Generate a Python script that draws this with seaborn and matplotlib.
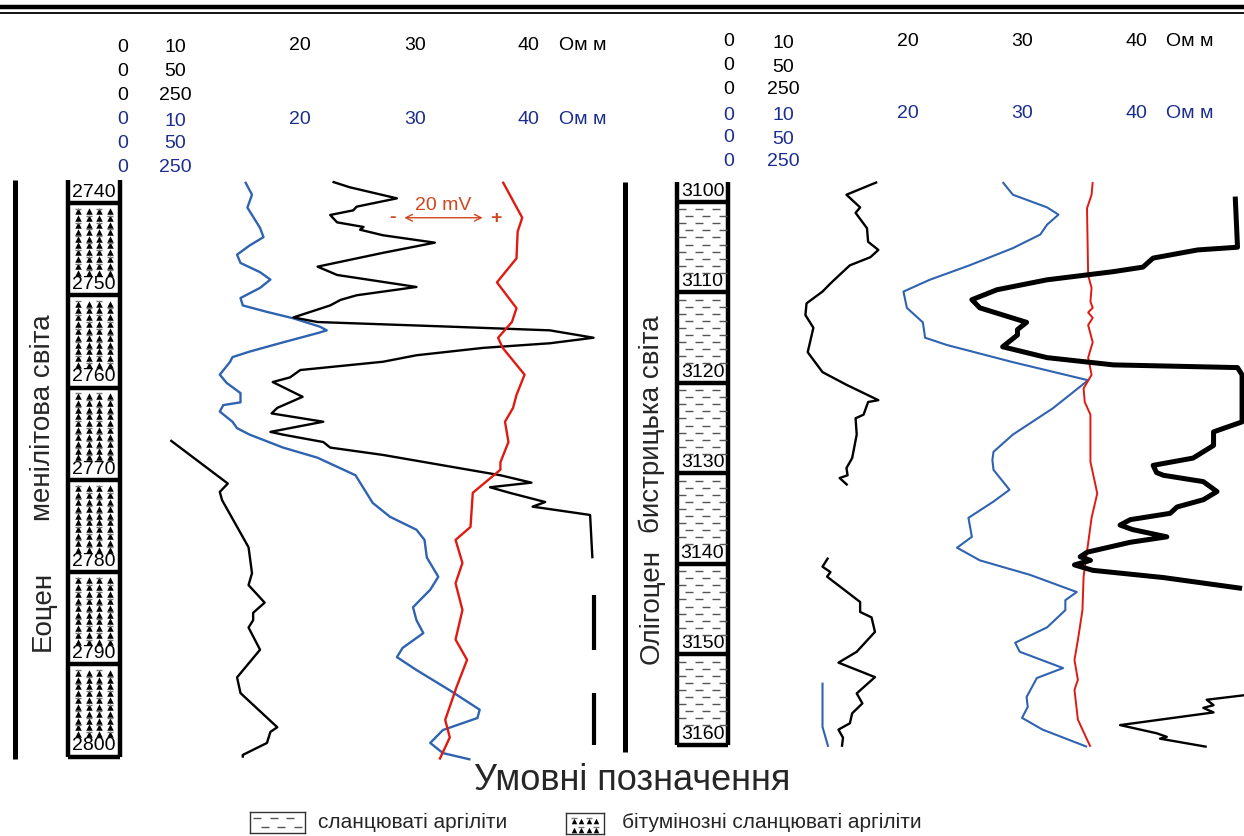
import numpy as np
import matplotlib
matplotlib.use("Agg")
import matplotlib.pyplot as plt
import seaborn as sns
from matplotlib.lines import Line2D

sns.set_theme(style="white")
plt.rcParams['font.family'] = ['Liberation Sans', 'DejaVu Sans']

# ---------------- data (depth in m, values in Ом м scale units) ----------------
# left well: Еоцен, менілітова світа
l_blue_depth = [2737.7, 2739.1, 2740.5, 2742.7, 2743.7, 2744.6, 2745.6, 2746.5, 2747.5, 2748.3,
                2749.2, 2750.3, 2751.1, 2751.8, 2752.5, 2753.4, 2753.8, 2754.1, 2755.1, 2756.1,
                2756.7, 2757.2, 2758.6, 2759.5, 2760.6, 2761.6, 2761.9, 2762.6, 2763.7, 2764.4,
                2765.1, 2766.5, 2767.6, 2769.5, 2772.5, 2774.0, 2775.4, 2776.5, 2778.4, 2780.5,
                2781.9, 2783.8, 2785.2, 2786.6, 2788.2, 2789.2, 2790.6, 2792.8, 2794.9, 2795.8,
                2797.1, 2798.5, 2799.6, 2800.3]
l_blue_ohm = [15.4, 16.0, 15.6, 16.7, 17.0, 15.8, 14.7, 15.0, 16.7, 17.6,
              16.7, 15.0, 15.2, 17.3, 19.6, 21.9, 22.5, 21.7, 18.7, 15.8,
              14.3, 14.1, 13.2, 13.8, 15.0, 15.0, 13.5, 13.2, 14.3, 14.7,
              15.8, 18.7, 21.7, 25.0, 26.5, 28.0, 30.3, 31.0, 31.2, 32.2,
              31.5, 30.0, 30.3, 30.9, 29.1, 28.6, 30.3, 33.2, 35.8, 35.6,
              32.6, 31.5, 32.6, 35.0]

l_black_depth = [2737.7, 2738.3, 2739.5, 2740.4, 2740.8, 2741.3, 2742.1, 2742.6, 2742.9, 2743.5,
                 2744.3, 2745.4, 2746.9, 2747.8, 2749.1, 2750.0, 2750.5, 2751.1, 2752.4, 2752.9,
                 2753.4, 2753.8, 2754.6, 2755.2, 2755.7, 2756.5, 2757.2, 2758.1, 2758.9, 2759.4,
                 2761.0, 2762.2, 2762.8, 2763.7, 2764.8, 2765.1, 2765.9, 2766.5, 2767.3, 2769.5,
                 2770.3, 2770.8, 2771.4, 2772.4, 2772.9, 2773.8, 2778.5]
l_black_ohm = [23.0, 24.5, 28.6, 25.1, 24.8, 22.8, 23.4, 25.7, 25.4, 27.4,
               31.9, 27.4, 21.7, 23.4, 30.3, 25.1, 23.7, 22.8, 19.6, 21.7,
               33.2, 41.9, 45.7, 41.9, 36.1, 30.3, 27.4, 20.2, 19.3, 17.8,
               20.4, 18.2, 17.7, 22.2, 17.6, 18.7, 22.2, 22.8, 27.4, 37.6,
               40.3, 36.7, 38.4, 41.5, 40.4, 45.4, 45.6]
l_black_gaps = [(2782.5, 2788.4), (2793.1, 2798.7)]
l_black_gap_ohm = 45.7

l_thin_depth = [2765.7, 2770.4, 2771.3, 2772.2, 2777.3, 2780.1, 2781.4, 2783.3, 2784.4, 2785.2,
                2786.0, 2788.4, 2791.4, 2793.1, 2796.8, 2797.3, 2798.5, 2799.8, 2800.1]
l_thin_ohm = [8.9, 13.9, 13.2, 13.4, 15.7, 16.0, 15.7, 17.1, 16.1, 16.1,
              15.7, 16.7, 14.7, 15.0, 18.2, 17.6, 17.3, 15.2, 15.2]

l_sp_depth = [2737.7, 2741.6, 2743.1, 2746.0, 2748.6, 2751.4, 2752.9, 2754.6, 2755.7, 2758.6,
              2760.8, 2762.2, 2763.7, 2765.9, 2768.1, 2768.9, 2771.4, 2775.1, 2776.5, 2779.0,
              2781.2, 2784.1, 2787.3, 2789.5, 2792.4, 2796.0, 2797.9, 2800.3]
l_sp_val = [37.8, 39.5, 39.1, 39.0, 37.3, 39.0, 38.6, 37.4, 37.8, 39.7,
            39.0, 38.7, 38.0, 38.3, 37.6, 37.6, 35.2, 35.0, 33.7, 34.3,
            33.7, 34.3, 33.7, 34.7, 33.8, 32.8, 33.2, 32.3]

# right well: Олігоцен, бистрицька світа
r_thin_a_depth = [3097.8, 3099.2, 3100.6, 3101.2, 3102.9, 3104.4, 3105.3, 3106.1, 3107.0, 3107.7,
                  3109.0, 3109.9, 3111.2, 3112.5, 3113.9, 3116.6, 3118.8, 3120.2, 3121.9, 3122.1,
                  3123.5, 3123.9, 3125.7, 3128.3, 3129.4, 3130.2, 3130.5, 3131.3]
r_thin_a_ohm = [17.3, 14.6, 15.8, 15.4, 16.4, 16.5, 17.4, 16.7, 14.9, 14.3,
                13.2, 12.5, 11.1, 11.0, 11.7, 11.2, 12.5, 14.6, 17.4, 16.5,
                16.1, 15.4, 15.5, 15.1, 14.6, 14.7, 14.0, 14.7]
r_thin_b_depth = [3139.3, 3140.3, 3140.9, 3141.4, 3144.2, 3145.3, 3145.9, 3147.5, 3149.7, 3150.9,
                  3152.5, 3154.3, 3155.4, 3156.5, 3157.6, 3158.3, 3159.2, 3160.2]
r_thin_b_ohm = [13.0, 12.5, 13.2, 12.9, 15.8, 15.8, 16.8, 17.1, 15.5, 13.9,
                17.1, 15.5, 16.0, 15.1, 14.9, 13.9, 14.3, 14.2]
r_blue_short_depth = [3153.1, 3158.0, 3160.2]
r_blue_short_ohm = [12.5, 12.5, 13.0]

r_blue_depth = [3097.8, 3099.2, 3100.6, 3101.4, 3102.5, 3103.6, 3105.1, 3107.0, 3108.6, 3109.9,
                3111.7, 3113.3, 3115.0, 3115.8, 3117.7, 3119.7, 3122.8, 3125.7, 3127.6, 3128.5,
                3129.6, 3131.8, 3133.1, 3134.9, 3137.0, 3138.2, 3139.6, 3141.2, 3143.1, 3144.0,
                3145.1, 3147.0, 3148.7, 3149.7, 3151.5, 3152.6, 3154.7, 3155.8, 3157.0, 3158.3,
                3160.2]
r_blue_ohm = [28.3, 29.2, 32.2, 33.2, 32.2, 31.6, 29.2, 25.4, 21.9, 19.6,
              19.9, 21.3, 21.5, 23.4, 29.2, 35.8, 32.7, 29.2, 27.5, 27.4,
              27.5, 28.9, 27.5, 25.3, 25.6, 24.3, 26.3, 30.7, 34.8, 33.8,
              33.8, 32.2, 29.4, 29.8, 33.6, 31.3, 30.4, 30.5, 30.0, 31.8,
              35.7]

r_sp_depth = [3097.8, 3099.2, 3100.7, 3108.1, 3109.5, 3111.0, 3111.7, 3112.2, 3112.8, 3113.6,
              3115.5, 3117.2, 3119.1, 3120.6, 3122.1, 3123.5, 3128.7, 3132.2, 3134.9, 3137.7,
              3141.4, 3145.1, 3148.4, 3150.6, 3152.8, 3153.9, 3157.2, 3160.2]
r_sp_val = [36.2, 36.1, 35.7, 35.8, 36.1, 36.0, 36.2, 35.8, 36.2, 35.8,
            36.2, 35.8, 36.1, 35.4, 35.5, 36.0, 36.0, 36.6, 36.1, 35.8,
            35.4, 35.3, 34.9, 34.6, 34.9, 34.6, 34.9, 36.0]

r_thick_depth = [3099.4, 3105.0, 3105.3, 3106.2, 3107.2, 3107.7, 3108.6, 3109.7, 3110.8, 3111.7,
                 3113.3, 3114.1, 3114.7, 3116.0, 3117.2, 3118.0, 3118.3, 3119.1, 3124.3, 3125.4,
                 3126.9, 3128.3, 3129.1, 3129.9, 3130.2, 3130.9, 3132.0, 3132.9, 3133.7, 3134.4,
                 3135.1, 3135.7, 3136.2, 3137.0, 3137.6, 3138.7, 3139.2, 3139.6, 3140.1, 3140.7,
                 3141.5, 3142.7]
r_thick_ohm = [48.7, 48.9, 45.4, 41.5, 40.6, 38.0, 32.2, 27.8, 25.6, 26.3,
               30.4, 29.6, 29.6, 28.3, 32.2, 38.0, 48.9, 49.3, 49.3, 46.8,
               46.8, 45.0, 41.5, 41.8, 42.4, 45.9, 47.1, 45.9, 43.6, 43.0,
               39.5, 38.6, 39.7, 42.7, 39.5, 35.7, 35.1, 36.0, 34.6, 36.2,
               42.4, 49.3]
r_tail_depth = [3154.5, 3155.0, 3155.6, 3155.9, 3156.4, 3157.8, 3158.7, 3159.1, 3159.3, 3160.2]
r_tail_ohm = [49.5, 46.2, 46.8, 45.9, 46.8, 38.6, 41.8, 42.7, 42.1, 46.2]

# lithology column boundaries and scale labels
left_bounds = [2740, 2750, 2760, 2770, 2780, 2790, 2800]
right_bounds = [3100, 3110, 3120, 3130, 3140, 3150, 3160]
scale_zero = "0"
scale_first = ["10", "50", "250"]
scale_major = ["20", "30", "40"]
scale_unit = "Ом м"
left_strat = ["Еоцен", "менілітова світа"]
right_strat = ["Олігоцен", "бистрицька світа"]
legend_title = "Умовні позначення"
legend_items = ["сланцюваті аргіліти", "бітумінозні сланцюваті аргіліти"]

BLUE = "#2f63b0"
RED = "#e01a10"
NAVY = "#1c2d8f"
SP_TXT = "#d0461e"

W, H = 1244, 836
fig = plt.figure(figsize=(W / 100, H / 100), dpi=100)
fig.patch.set_facecolor("white")


def fx(x):
    return x / W


def fy(y):
    return 1 - y / H


def curve(ax, vals, depth, color, lw):
    sns.lineplot(x=vals, y=depth, sort=False, estimator=None, orient="y", ax=ax,
                 color=color, lw=lw, legend=False, solid_joinstyle="round",
                 solid_capstyle="butt")


def shale_pattern(ax, x0, x1, d0, d1, step, s=30):
    xs = np.linspace(x0, x1, 4)[1:] - (x1 - x0) / 6
    for i, d in enumerate(np.arange(d0, d1, step)):
        off = (x1 - x0) / 14 * (1 if i % 2 else -1)
        ax.scatter(xs + off, [d] * len(xs), marker="_", s=s, color="#555555",
                   linewidths=1.0, zorder=3)


def bitum_pattern(ax, x0, x1, d0, d1, step, s=22, sd=14):
    xs = np.linspace(x0, x1, 6)[1:-1]
    dx = xs[1] - xs[0]
    for i, d in enumerate(np.arange(d0, d1, step)):
        ax.scatter(xs, [d] * len(xs), marker="^", s=s, color="black",
                   linewidths=0, zorder=3)
        xd = xs[::2] + (dx if i % 2 else 0)
        ax.scatter(xd, [d - step * 0.35] * len(xd), marker="_", s=sd,
                   color="#777777", linewidths=1.0, zorder=3)


def column(ax, x0, x1, top, bounds, kind):
    bot = bounds[-1]
    ax.vlines([x0, x1], top, bot, color="black", lw=3.2)
    ax.hlines(bounds, x0, x1, color="black", lw=3.2)
    for b in bounds:
        ax.text((x0 + x1) / 2, b - 0.25, str(b), ha="center", va="bottom",
                fontsize=14, color="black")
    for b in bounds[:-1]:
        if kind == "bitum":
            bitum_pattern(ax, x0, x1, b + 0.9, b + 7.8, 0.74)
        else:
            shale_pattern(ax, x0, x1, b + 0.8, b + 8.0, 0.78)


# ---------------- left panel ----------------
ax_l = fig.add_axes([0, fy(765), 620 / W, 590 / H])
ax_l.set_xlim(-5.913, 48.0)
ax_l.set_ylim(2800.89, 2736.97)
ax_l.axis("off")

ax_l.vlines(-4.6, 2737.5, 2800.2, color="black", lw=3.6)
column(ax_l, 0.0, 4.55, 2737.5, left_bounds, "bitum")
curve(ax_l, l_blue_ohm, l_blue_depth, BLUE, 1.7)
curve(ax_l, l_black_ohm, l_black_depth, "black", 1.7)
for d0, d1 in l_black_gaps:
    curve(ax_l, [l_black_gap_ohm, l_black_gap_ohm], [d0, d1], "black", 3.0)
curve(ax_l, l_thin_ohm, l_thin_depth, "black", 1.7)
curve(ax_l, l_sp_val, l_sp_depth, RED, 1.7)

ax_l.annotate("", xy=(36.3, 2741.6), xytext=(29.0, 2741.6),
              arrowprops=dict(arrowstyle="<->", color=SP_TXT, lw=1.0))
ax_l.text(32.6, 2741.2, "20 mV", ha="center", va="bottom", fontsize=14, color=SP_TXT)
ax_l.text(28.2, 2741.6, "-", ha="center", va="center", fontsize=14, color=SP_TXT,
          fontweight="bold")
ax_l.text(37.2, 2741.7, "+", ha="center", va="center", fontsize=14, color=SP_TXT,
          fontweight="bold")

# ---------------- right panel ----------------
ax_r = fig.add_axes([620 / W, fy(765), 624 / W, 590 / H])
ax_r.set_xlim(-5.263, 49.47)
ax_r.set_ylim(3162.21, 3097.02)
ax_r.axis("off")

ax_r.vlines(-4.85, 3097.8, 3160.8, color="black", lw=3.6)
column(ax_r, -0.26, 4.21, 3097.8, right_bounds, "shale")
curve(ax_r, r_thin_a_ohm, r_thin_a_depth, "black", 1.7)
curve(ax_r, r_thin_b_ohm, r_thin_b_depth, "black", 1.7)
curve(ax_r, r_blue_short_ohm, r_blue_short_depth, BLUE, 1.5)
curve(ax_r, r_blue_ohm, r_blue_depth, BLUE, 1.5)
curve(ax_r, r_sp_val, r_sp_depth, RED, 1.4)
curve(ax_r, r_thick_ohm, r_thick_depth, "black", 3.6)
curve(ax_r, r_tail_ohm, r_tail_depth, "black", 1.7)

# ---------------- header scales ----------------
def header(xs, ys, color):
    for k, (y, first) in enumerate(zip(ys, scale_first)):
        fig.text(fx(xs[0]), fy(y), scale_zero, ha="center", va="center", fontsize=14, color=color)
        fig.text(fx(xs[1]), fy(y + 1), first, ha="center", va="center", fontsize=14, color=color)
        if k == 0:
            for x, lab in zip(xs[2:5], scale_major):
                fig.text(fx(x), fy(y - 1), lab, ha="center", va="center", fontsize=14, color=color)
            fig.text(fx(xs[5]), fy(y - 1), scale_unit, ha="center", va="center", fontsize=14,
                     color=color)


header([123, 175, 300, 415, 528, 583], [47, 71, 95], "black")
header([123, 175, 300, 415, 528, 583], [120, 143, 167], NAVY)
header([729, 783, 908, 1022, 1136, 1190], [42, 66, 89], "black")
header([729, 783, 908, 1022, 1136, 1190], [115, 138, 161], NAVY)

# stratigraphy labels
fig.text(fx(43), fy(611), left_strat[0], rotation=90, ha="center", va="center", fontsize=20)
fig.text(fx(43), fy(418), left_strat[1], rotation=90, ha="center", va="center", fontsize=20)
fig.text(fx(652), fy(607), right_strat[0], rotation=90, ha="center", va="center", fontsize=20)
fig.text(fx(652), fy(424), right_strat[1], rotation=90, ha="center", va="center", fontsize=20)

# top double rule
fig.add_artist(Line2D([0, 1], [fy(7), fy(7)], lw=3.2, color="black", transform=fig.transFigure))
fig.add_artist(Line2D([0, 1], [fy(12.5), fy(12.5)], lw=1.3, color="black",
                      transform=fig.transFigure))

# ---------------- legend ----------------
fig.text(fx(632), fy(780), legend_title, ha="center", va="center", fontsize=26)

lg1 = fig.add_axes([fx(250), fy(833), 55 / W, 21 / H])
lg1.set_xlim(0, 1)
lg1.set_ylim(1, 0)
lg1.set_xticks([])
lg1.set_yticks([])
for sp in lg1.spines.values():
    sp.set_color("#333333")
    sp.set_linewidth(1.0)
shale_pattern(lg1, 0.05, 0.95, 0.3, 0.9, 0.4, s=40)

lg2 = fig.add_axes([fx(566), fy(834), 38 / W, 21 / H])
lg2.set_xlim(0, 1)
lg2.set_ylim(1, 0)
lg2.set_xticks([])
lg2.set_yticks([])
for sp in lg2.spines.values():
    sp.set_color("#333333")
    sp.set_linewidth(1.0)
bitum_pattern(lg2, 0.0, 1.0, 0.4, 1.0, 0.4, s=16, sd=14)

fig.text(fx(318), fy(822), legend_items[0], ha="left", va="center", fontsize=15)
fig.text(fx(622), fy(822), legend_items[1], ha="left", va="center", fontsize=15)

fig.savefig("out.png", dpi=100, facecolor="white")
